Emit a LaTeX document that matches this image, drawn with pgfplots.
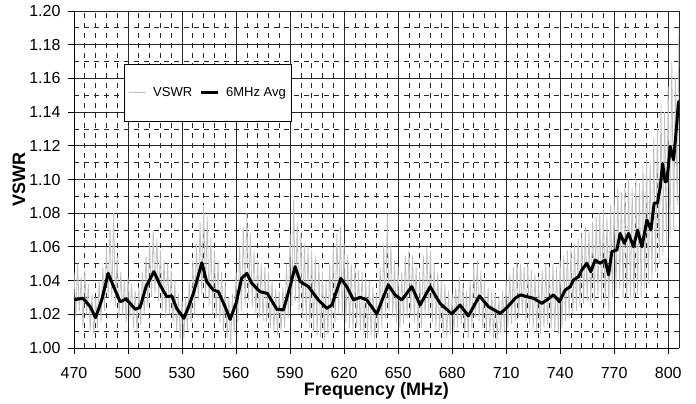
\documentclass[border=0pt]{standalone}
\usepackage{pgfplots}
\pgfplotsset{compat=1.18}
\usepackage{fontspec}
\setmainfont{Liberation Sans}
\definecolor{vswrgray}{RGB}{192,192,192}
\begin{document}
\begin{tikzpicture}
\useasboundingbox (-74pt,-56pt) rectangle (622pt,348pt);
\begin{axis}[
  at={(0,0)}, anchor=south west,
  scale only axis, width=605pt, height=337pt,
  xmin=470, xmax=806, ymin=1.00, ymax=1.20,
  xtick={470,500,...,800},
  ytick={1.00,1.02,...,1.201},
  minor x tick num=4,
  minor y tick num=1,
  grid=both,
  major grid style={black!85, line width=0.8pt},
  minor grid style={black!85, line width=0.7pt, dash pattern=on 5pt off 5pt},
  axis x line*=bottom, axis y line*=left,
  axis line style={black, line width=0.9pt, -},
  tick align=outside, major tick length=6pt, minor tick length=0pt,
  tick style={black, line width=0.8pt},
  /pgf/number format/assume math mode=true,
  yticklabel style={/pgf/number format/fixed, /pgf/number format/precision=2, /pgf/number format/fixed zerofill},
  tick label style={font=\fontsize{16}{18}\selectfont},
  xticklabel style={anchor=base, yshift=-24pt},
  yticklabel style={anchor=east, xshift=-4pt},
  xlabel={\textbf{Frequency (MHz)}},
  ylabel={\textbf{VSWR}},
  label style={font=\fontsize{18}{20}\selectfont},
  xlabel style={at={(axis description cs:0.5,-0.1415)}, anchor=base},
  ylabel style={at={(axis description cs:-0.0909,0.5)}, anchor=center},
  extra x ticks={806},
  extra x tick style={grid style={vswrgray, solid, line width=0.9pt}, major tick length=0pt, xticklabels={}},
  legend columns=2,
  legend style={at={(axis description cs:0.0826,0.8427)}, anchor=north west,
    draw=black, line width=0.8pt, fill=white, font=\fontsize{13}{15}\selectfont,
    inner xsep=4pt, inner ysep=21pt, column sep=5pt},
  legend image code/.code={\draw[#1] (0pt,0pt) -- (17pt,0pt);},
]
\addplot[vswrgray, line width=0.8pt] coordinates {
(470,1.045)(471,1.018)(472,1.050)(473,1.022)(474,1.042)(475,1.012)(476,1.046)(477,1.020)(478,1.038)(479,1.010)
(480,1.032)(481,1.008)(482,1.030)(483,1.012)(484,1.040)(485,1.015)(486,1.048)(487,1.022)(488,1.060)(489,1.030)
(490,1.072)(491,1.028)(492,1.080)(493,1.025)(494,1.055)(495,1.018)(496,1.045)(497,1.020)(498,1.040)(499,1.015)
(500,1.042)(501,1.018)(502,1.038)(503,1.012)(504,1.034)(505,1.010)(506,1.036)(507,1.014)(508,1.045)(509,1.020)
(510,1.055)(511,1.025)(512,1.062)(513,1.030)(514,1.070)(515,1.032)(516,1.065)(517,1.028)(518,1.058)(519,1.022)
(520,1.052)(521,1.018)(522,1.050)(523,1.020)(524,1.046)(525,1.015)(526,1.040)(527,1.010)(528,1.032)(529,1.005)
(530,1.028)(531,1.006)(532,1.030)(533,1.010)(534,1.040)(535,1.015)(536,1.052)(537,1.020)(538,1.062)(539,1.028)
(540,1.075)(541,1.032)(542,1.085)(543,1.030)(544,1.078)(545,1.025)(546,1.065)(547,1.020)(548,1.058)(549,1.018)
(550,1.052)(551,1.015)(552,1.045)(553,1.010)(554,1.038)(555,1.006)(556,1.030)(557,1.002)(558,1.032)(559,1.008)
(560,1.045)(561,1.015)(562,1.060)(563,1.022)(564,1.072)(565,1.025)(566,1.080)(567,1.028)(568,1.068)(569,1.024)
(570,1.058)(571,1.020)(572,1.052)(573,1.018)(574,1.050)(575,1.016)(576,1.048)(577,1.015)(578,1.045)(579,1.012)
(580,1.040)(581,1.010)(582,1.035)(583,1.008)(584,1.034)(585,1.010)(586,1.036)(587,1.012)(588,1.050)(589,1.018)
(590,1.068)(591,1.025)(592,1.088)(593,1.028)(594,1.075)(595,1.022)(596,1.068)(597,1.018)(598,1.062)(599,1.015)
(600,1.060)(601,1.012)(602,1.058)(603,1.010)(604,1.055)(605,1.008)(606,1.050)(607,1.006)(608,1.045)(609,1.005)
(610,1.040)(611,1.008)(612,1.050)(613,1.010)(614,1.060)(615,1.015)(616,1.068)(617,1.020)(618,1.072)(619,1.018)
(620,1.062)(621,1.015)(622,1.055)(623,1.012)(624,1.050)(625,1.010)(626,1.048)(627,1.012)(628,1.046)(629,1.010)
(630,1.045)(631,1.008)(632,1.042)(633,1.006)(634,1.040)(635,1.008)(636,1.036)(637,1.005)(638,1.032)(639,1.008)
(640,1.048)(641,1.012)(642,1.062)(643,1.018)(644,1.080)(645,1.022)(646,1.062)(647,1.018)(648,1.052)(649,1.015)
(650,1.048)(651,1.012)(652,1.045)(653,1.014)(654,1.055)(655,1.018)(656,1.058)(657,1.020)(658,1.055)(659,1.015)
(660,1.048)(661,1.010)(662,1.045)(663,1.012)(664,1.055)(665,1.018)(666,1.060)(667,1.020)(668,1.058)(669,1.015)
(670,1.050)(671,1.012)(672,1.045)(673,1.010)(674,1.040)(675,1.008)(676,1.038)(677,1.006)(678,1.034)(679,1.008)
(680,1.032)(681,1.010)(682,1.036)(683,1.012)(684,1.042)(685,1.014)(686,1.038)(687,1.010)(688,1.034)(689,1.006)
(690,1.040)(691,1.012)(692,1.050)(693,1.018)(694,1.052)(695,1.016)(696,1.046)(697,1.012)(698,1.040)(699,1.010)
(700,1.036)(701,1.008)(702,1.034)(703,1.006)(704,1.032)(705,1.005)(706,1.030)(707,1.008)(708,1.034)(709,1.010)
(710,1.040)(711,1.012)(712,1.044)(713,1.014)(714,1.048)(715,1.016)(716,1.052)(717,1.018)(718,1.050)(719,1.020)
(720,1.048)(721,1.016)(722,1.050)(723,1.014)(724,1.046)(725,1.012)(726,1.044)(727,1.010)(728,1.042)(729,1.008)
(730,1.046)(731,1.012)(732,1.050)(733,1.014)(734,1.048)(735,1.012)(736,1.050)(737,1.010)(738,1.048)(739,1.008)
(740,1.052)(741,1.012)(742,1.055)(743,1.016)(744,1.058)(745,1.018)(746,1.060)(747,1.020)(748,1.062)(749,1.022)
(750,1.065)(751,1.024)(752,1.068)(753,1.026)(754,1.072)(755,1.028)(756,1.070)(757,1.025)(758,1.075)(759,1.028)
(760,1.078)(761,1.030)(762,1.080)(763,1.028)(764,1.082)(765,1.025)(766,1.078)(767,1.020)(768,1.085)(769,1.030)
(770,1.090)(771,1.032)(772,1.095)(773,1.035)(774,1.092)(775,1.030)(776,1.098)(777,1.028)(778,1.100)(779,1.030)
(780,1.095)(781,1.028)(782,1.102)(783,1.032)(784,1.098)(785,1.030)(786,1.108)(787,1.035)(788,1.112)(789,1.038)
(790,1.110)(791,1.040)(792,1.125)(793,1.045)(794,1.130)(795,1.050)(796,1.145)(797,1.055)(798,1.140)(799,1.060)
(800,1.155)(801,1.065)(802,1.170)(803,1.070)(804,1.160)(805,1.085)(806,1.190)
};
\addlegendentry{VSWR}
\addplot[black, line width=3pt, line join=round] coordinates {
(470,1.0285)(472,1.0290)(475,1.0295)(479,1.0245)(482,1.0180)(485.4,1.0285)(489,1.0443)(492,1.0364)(495.6,1.0275)
(499,1.0290)(504,1.0230)(506.7,1.0241)(510,1.0364)(514.4,1.0453)(517.8,1.0374)(521.5,1.0305)(524.3,1.0309)
(527,1.0235)(531,1.0176)(533.5,1.0240)(536.3,1.0324)(541,1.0506)(543.7,1.0394)(547.4,1.0344)(550.2,1.0334)
(553.9,1.0245)(556.7,1.0170)(560,1.0265)(563.1,1.0413)(566,1.0443)(568.7,1.0384)(573.3,1.0334)(577.4,1.0324)
(582.6,1.0230)(586.3,1.0226)(590,1.0364)(592.8,1.0483)(595.6,1.0394)(600.2,1.0364)(605.7,1.0285)(610.4,1.0235)
(613.2,1.0255)(618.2,1.0413)(621.5,1.0364)(625.2,1.0285)(628.9,1.0301)(632.6,1.0285)(638.2,1.0202)(641.5,1.0295)
(644.6,1.0374)(648.3,1.0315)(652,1.0285)(657.6,1.0364)(662.2,1.0255)(667.8,1.0364)(673.3,1.0265)(679.8,1.0202)
(684.4,1.0255)(689,1.0190)(695.2,1.0309)(700.2,1.0245)(706.7,1.0205)(710.4,1.0240)(715,1.0295)(718,1.0315)
(721.5,1.0305)(725.2,1.0295)(729.8,1.0265)(732.6,1.0285)(736.3,1.0315)(739.6,1.0275)(742.8,1.0344)(745.6,1.0364)
(747.4,1.0404)(750.2,1.0423)(752,1.0463)(754.8,1.0503)(757,1.0453)(759.4,1.0522)(762.2,1.0503)(765,1.0522)
(766.9,1.0433)(768.7,1.0572)(771.5,1.0582)(773.3,1.0680)(775.6,1.0621)(778,1.0680)(780.7,1.0601)(783,1.0700)
(785.4,1.0601)(788.2,1.0760)(790.4,1.0700)(792.2,1.0859)(794.1,1.0862)(795.6,1.0957)(796.9,1.1096)(798.3,1.0987)
(799.3,1.0990)(801.1,1.1195)(803,1.1116)(804.8,1.1333)(805.7,1.1462)(806,1.1380)
};
\addlegendentry{6MHz Avg}
\end{axis}
\end{tikzpicture}
\end{document}
